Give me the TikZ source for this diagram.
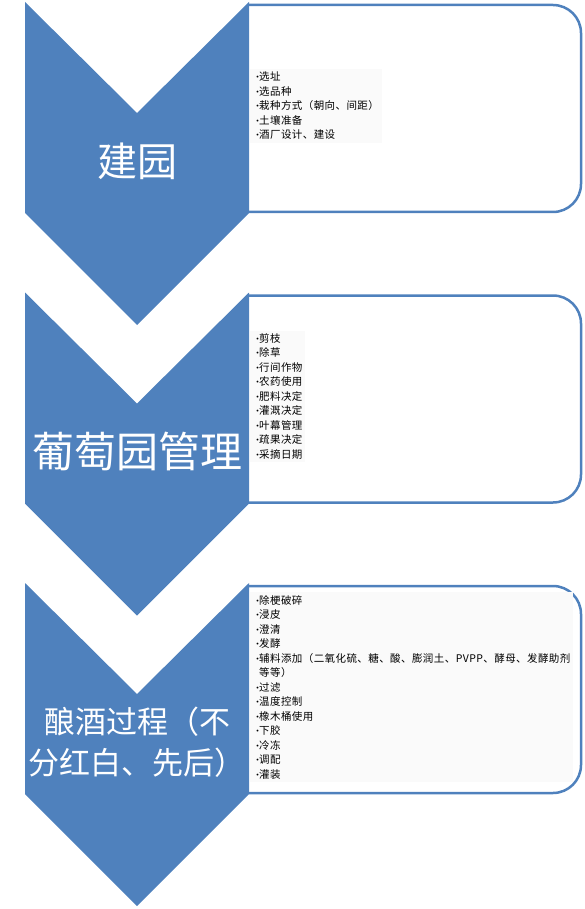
\documentclass[tikz,border=0pt]{standalone}
\usepackage{fontspec}
\setmainfont{Noto Sans CJK SC}
\newfontfamily\listfont[LetterSpace=4]{Noto Sans CJK SC}
\definecolor{chevblue}{RGB}{79,129,189}
\tikzstyle{chevron}=[fill=chevblue]
\tikzstyle{listbox}=[draw=chevblue,line width=2.5pt,rounded corners=28pt]
\tikzstyle{stagelabel}=[text=white,align=center,inner sep=0pt]
\tikzstyle{itemlist}=[anchor=west,align=left,fill=black!2,inner sep=3pt,font=\listfont\fontsize{10.5}{14.5}\selectfont]
\newcommand{\itm}{\makebox[6pt][l]{\fontsize{9}{9}\selectfont •}}

\begin{document}
\begin{tikzpicture}[x=1pt,y=-1pt]
    \useasboundingbox (0,0) rectangle (584,909);
    % boxes behind, chevrons on top
    \foreach \t/\n in {2/1,292.5/2,583/3}
    {
    \draw[listbox] (249,\t+3) -- (581,\t+3) -- (581,\t+210) -- (249,\t+210);
    \fill[chevron] (25,\t) -- (137,\t+111) -- (249,\t) -- (249,\t+211) -- (137,\t+323) -- (25,\t+211) -- cycle;
    \coordinate (c\n) at (137,\t+159);
    \coordinate (l\n) at (250,\t+104);
    }

    \node[stagelabel,font=\fontsize{40}{40}\selectfont] (stage1) at (c1) {建园};
    \node[stagelabel,font=\fontsize{42}{42}\selectfont] (stage2) at (c2) {葡萄园管理};
    \node[stagelabel,font=\fontsize{31}{41}\selectfont] (stage3) at (c3) {酿酒过程（不\\分红白、先后）};

    \node[itemlist] (list1) at (l1) {\itm 选址\\\itm 选品种\\\itm 栽种方式（朝向、间距）\\\itm 土壤准备\\\itm 酒厂设计、建设};
    \node[itemlist] (list2) at (l2) {\itm 剪枝\\\itm 除草\\\itm 行间作物\\\itm 农药使用\\\itm 肥料决定\\\itm 灌溉决定\\\itm 叶幕管理\\\itm 疏果决定\\\itm 采摘日期};
    \node[itemlist] (list3) at (l3) {\itm 除梗破碎\\\itm 浸皮\\\itm 澄清\\\itm 发酵\\\itm 辅料添加（二氧化硫、糖、酸、膨润土、PVPP、酵母、发酵助剂\\\hspace*{6pt}等等）\\\itm 过滤\\\itm 温度控制\\\itm 橡木桶使用\\\itm 下胶\\\itm 冷冻\\\itm 调配\\\itm 灌装};
\end{tikzpicture}
\end{document}
